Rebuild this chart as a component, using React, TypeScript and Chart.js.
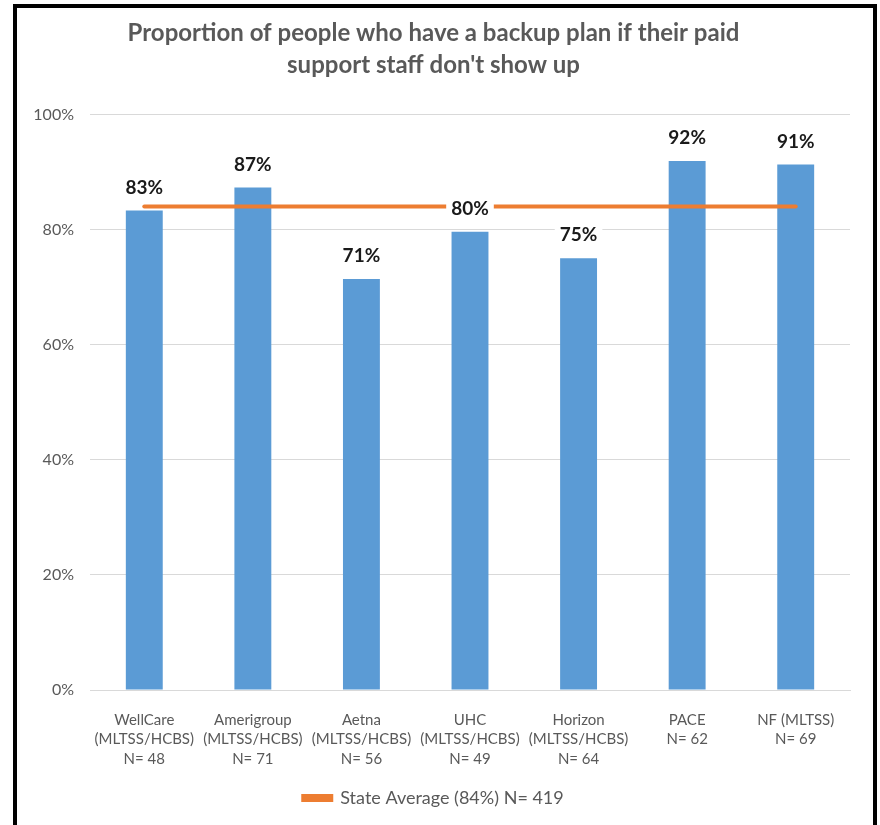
import React, { useEffect, useRef } from "react";
import { Chart, registerables } from "chart.js";

Chart.register(...registerables);

const TITLE = ["Proportion of people who have a backup plan if their paid", "support staff don't show up"];
const CATEGORIES: string[][] = [
  ["WellCare", "(MLTSS/HCBS)", "N= 48"],
  ["Amerigroup", "(MLTSS/HCBS)", "N= 71"],
  ["Aetna", "(MLTSS/HCBS)", "N= 56"],
  ["UHC", "(MLTSS/HCBS)", "N= 49"],
  ["Horizon", "(MLTSS/HCBS)", "N= 64"],
  ["PACE", "N= 62"],
  ["NF (MLTSS)", "N= 69"],
];
const PLAN_VALUES = [83.3, 87.3, 71.4, 79.6, 75.0, 91.9, 91.3];
const STATE_AVERAGE = [84, 84, 84, 84, 84, 84, 84];
const STATE_LABEL = "State Average (84%) N= 419";

const FONT = "Lato, 'Open Sans', sans-serif";
const GRAY = "#595959";

const labelPlugin = {
  id: "barLabels",
  afterDatasetsDraw(chart: any) {
    const ctx = chart.ctx;
    const meta = chart.getDatasetMeta(0);
    ctx.save();
    ctx.font = `bold 19px ${FONT}`;
    ctx.textAlign = "center";
    ctx.textBaseline = "middle";
    meta.data.forEach((bar: any, i: number) => {
      const text = Math.round(PLAN_VALUES[i]) + "%";
      const w = ctx.measureText(text).width;
      const y = bar.y - 23;
      ctx.fillStyle = "#ffffff";
      ctx.fillRect(bar.x - w / 2 - 5, y - 12, w + 10, 24);
      ctx.fillStyle = "#1a1a1a";
      ctx.fillText(text, bar.x, y);
    });
    ctx.restore();
  },
};

export default function App() {
  const ref = useRef<HTMLCanvasElement>(null);
  useEffect(() => {
    if (!ref.current) return;
    const chart = new Chart(ref.current, {
      type: "bar",
      data: {
        labels: CATEGORIES as any,
        datasets: [
          {
            type: "bar",
            label: "Plans",
            data: PLAN_VALUES,
            backgroundColor: "#5B9BD5",
            categoryPercentage: 1,
            barPercentage: 0.34,
            order: 1,
          },
          {
            type: "line",
            label: STATE_LABEL,
            data: STATE_AVERAGE,
            borderColor: "#ED7D31",
            backgroundColor: "#ED7D31",
            borderWidth: 4,
            borderCapStyle: "round",
            pointRadius: 0,
            order: 0,
          } as any,
        ],
      },
      options: {
        responsive: false,
        animation: false,
        layout: { padding: { left: 0, right: 23, top: 0, bottom: 8 } },
        plugins: {
          title: {
            display: true,
            text: TITLE,
            color: GRAY,
            font: { family: FONT, size: 24, weight: "bold", lineHeight: 1.3 },
            padding: { top: 10, bottom: 34 },
          },
          legend: {
            position: "bottom",
            labels: {
              filter: (item: any) => item.datasetIndex === 1,
              color: GRAY,
              font: { family: FONT, size: 18 },
              boxWidth: 28,
              boxHeight: 4,
              padding: 9,
            },
          },
          tooltip: { enabled: false },
        },
        scales: {
          x: {
            grid: { display: false },
            border: { color: "#d9d9d9", width: 1 },
            ticks: {
              color: GRAY,
              font: { family: FONT, size: 15, lineHeight: 1.3 },
              padding: 12,
              maxRotation: 0,
              autoSkip: false,
            },
            afterFit: (s: any) => {
              s.height = 90;
            },
          },
          y: {
            min: 0,
            max: 100,
            ticks: {
              stepSize: 20,
              color: GRAY,
              font: { family: FONT, size: 16 },
              padding: 16,
              callback: (v: any) => v + "%",
            },
            grid: { color: "#d9d9d9", lineWidth: 1, drawTicks: false },
            border: { display: false },
            afterFit: (s: any) => {
              s.width = 73;
            },
          },
        },
      },
      plugins: [labelPlugin],
    });
    return () => chart.destroy();
  }, []);

  return (
    <div
      style={{
        position: "absolute",
        left: 13,
        top: 4,
        width: 864,
        height: 821,
        border: "4px solid #000",
        borderBottom: "none",
        boxSizing: "border-box",
        background: "#fff",
        overflow: "hidden",
      }}
    >
      <canvas ref={ref} width={856} height={817} style={{ display: "block" }} />
    </div>
  );
}
